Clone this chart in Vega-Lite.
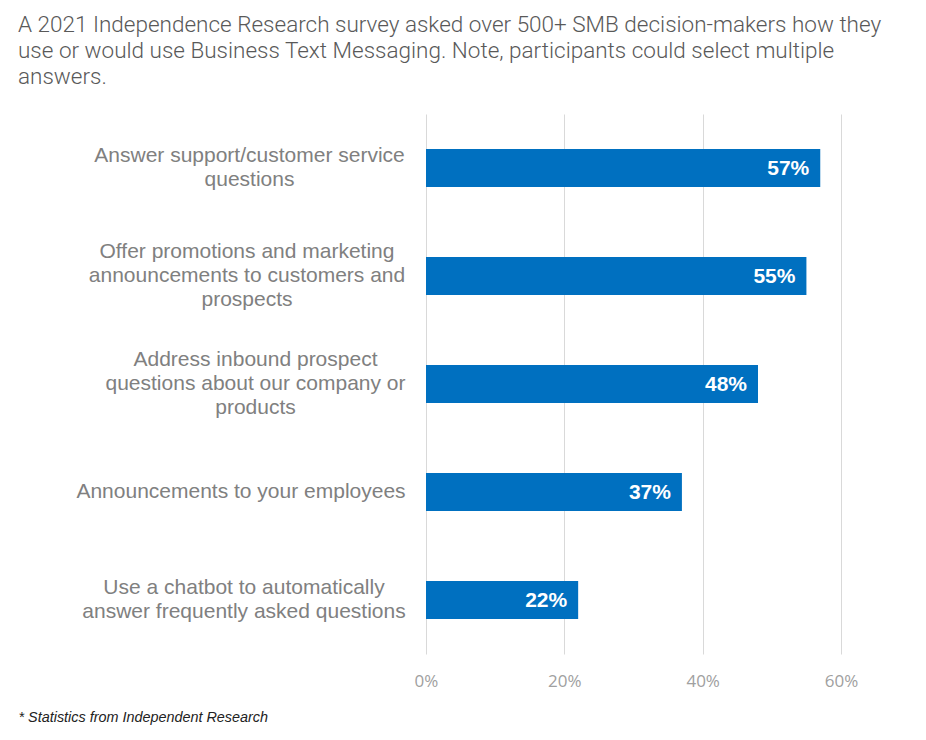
{
  "$schema": "https://vega.github.io/schema/vega-lite/v6.json",
  "width": 415,
  "height": 540,
  "autosize": {"type": "none"},
  "padding": {"left": 426, "top": 114, "right": 85, "bottom": 86},
  "background": "white",
  "title": {
    "text": ["A 2021 Independence Research survey asked over 500+ SMB decision-makers how they", "use or would use Business Text Messaging. Note, participants could select multiple", "answers."],
    "anchor": "start",
    "frame": "group",
    "dx": -408,
    "offset": 26,
    "font": "Roboto",
    "fontWeight": 300,
    "fontSize": 22.5,
    "lineHeight": 26,
    "color": "#595959"
  },
  "data": {
    "values": [
      {"use": "Answer support/customer service|questions", "share": 0.57},
      {"use": "Offer promotions and marketing|announcements to customers and|prospects", "share": 0.55},
      {"use": "Address inbound prospect|questions about our company or|products", "share": 0.48},
      {"use": "Announcements to your employees", "share": 0.37},
      {"use": "Use a chatbot to automatically|answer frequently asked questions", "share": 0.22}
    ]
  },
  "encoding": {
    "y": {
      "field": "use",
      "type": "nominal",
      "sort": null,
      "scale": {"paddingInner": 0.648, "paddingOuter": 0.324},
      "axis": {
        "title": null,
        "domain": false,
        "ticks": false,
        "tickSize": 0,
        "labelAlign": "center",
        "labelBaseline": "middle",
        "labelPadding": {
          "condition": [
            {"test": "indexof(datum.value, 'Offer') == 0", "value": 179.5},
            {"test": "indexof(datum.value, 'Address') == 0", "value": 171},
            {"test": "indexof(datum.value, 'Announcements') == 0", "value": 185.5},
            {"test": "indexof(datum.value, 'Use a') == 0", "value": 182.5}
          ],
          "value": 177
        },
        "labelOffset": {
          "condition": [
            {"test": "length(split(datum.label, '|')) == 3", "value": -24},
            {"test": "length(split(datum.label, '|')) == 2", "value": -12}
          ],
          "value": 0
        },
        "labelExpr": "split(datum.label, '|')",
        "labelFont": "Liberation Sans",
        "labelFontSize": 21,
        "labelLineHeight": 24,
        "labelColor": "#808080",
        "labelLimit": 400
      }
    },
    "x": {
      "field": "share",
      "type": "quantitative",
      "scale": {"domain": [0, 0.6], "nice": false},
      "axis": {
        "values": [0, 0.2, 0.4, 0.6],
        "format": ".0%",
        "domain": false,
        "ticks": false,
        "grid": true,
        "gridColor": "#d9d9d9",
        "gridWidth": 1,
        "labelFlush": false,
        "labelFont": "Open Sans",
        "labelFontSize": 17,
        "labelColor": "#a0a0a0",
        "labelPadding": 19,
        "title": "* Statistics from Independent Research",
        "titleX": -408,
        "titleY": 63,
        "titleAlign": "left",
        "titleBaseline": "middle",
        "titleFont": "Liberation Sans",
        "titleFontSize": 14.4,
        "titleFontStyle": "italic",
        "titleFontWeight": "normal",
        "titleColor": "#222222"
      }
    }
  },
  "layer": [
    {"mark": {"type": "bar", "color": "#0070C0"}},
    {
      "mark": {"type": "text", "align": "right", "baseline": "middle", "dx": -11, "dy": 1, "color": "white", "font": "Liberation Sans", "fontWeight": "bold", "fontSize": 21},
      "encoding": {"text": {"field": "share", "type": "quantitative", "format": ".0%"}}
    }
  ],
  "config": {"view": {"stroke": null}}
}
